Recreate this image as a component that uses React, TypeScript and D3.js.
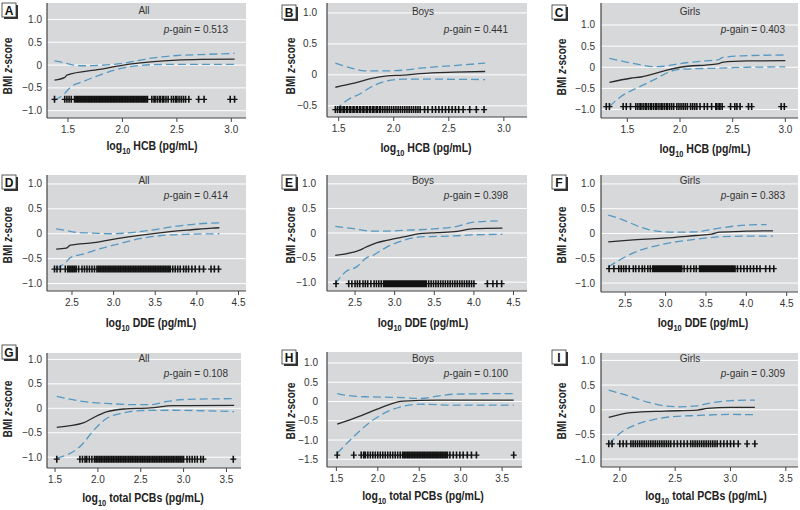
import React from "react";
import * as d3 from "d3";

type Pt = [number, number];

// ---------- data ----------
const PANEL_LETTERS = ["A", "B", "C", "D", "E", "F", "G", "H", "I"];
const GROUPS = ["All", "Boys", "Girls", "All", "Boys", "Girls", "All", "Boys", "Girls"];
const EXPOSURES = ["HCB", "HCB", "HCB", "DDE", "DDE", "DDE", "total PCBs", "total PCBs", "total PCBs"];
const P_GAINS = ["0.513", "0.441", "0.403", "0.414", "0.398", "0.383", "0.108", "0.100", "0.309"];

const X_TICKS_HCB = [1.5, 2.0, 2.5, 3.0];
const X_TICKS_DDE = [2.5, 3.0, 3.5, 4.0, 4.5];
const X_TICKS_PCB = [1.5, 2.0, 2.5, 3.0, 3.5];
const X_TICKS_PCB_GIRLS = [2.0, 2.5, 3.0, 3.5];
const Y_TICKS_STD = [-1.0, -0.5, 0, 0.5, 1.0];
const Y_TICKS_B = [-0.5, 0, 0.5, 1.0];
const Y_TICKS_H = [-1.5, -1.0, -0.5, 0, 0.5, 1.0];

const RUG_Y = [-0.75, -0.56, -0.93, -0.71, -1.03, -0.71, -1.04, -1.39, -0.69];

// Panel A
const A_fit: Pt[] = [[1.376, -0.33], [1.47, -0.27], [1.49, -0.22], [1.79, -0.095], [2.01, 0], [2.26, 0.07], [2.5, 0.11], [2.72, 0.124], [3.03, 0.13]];
const A_hi: Pt[] = [[1.376, 0.09], [1.47, 0.05], [1.55, 0], [1.64, -0.015], [1.79, -0.007], [2.01, 0.04], [2.26, 0.15], [2.5, 0.21], [2.72, 0.23], [3.03, 0.255]];
const A_lo: Pt[] = [[1.376, -0.77], [1.47, -0.62], [1.52, -0.49], [1.64, -0.36], [1.79, -0.22], [2.01, -0.06], [2.17, -0.007], [2.26, 0.007], [2.5, 0.015], [3.03, 0.015]];
const A_rug = [1.376, 1.47, 1.49, 1.51, 1.53, 1.56, 1.575, 1.59, 1.6, 1.615, 1.63, 1.645, 1.66, 1.675, 1.69, 1.7, 1.715, 1.73, 1.745, 1.76, 1.775, 1.79, 1.8, 1.815, 1.83, 1.845, 1.86, 1.875, 1.89, 1.9, 1.915, 1.93, 1.945, 1.96, 1.975, 1.99, 2.0, 2.015, 2.03, 2.045, 2.06, 2.075, 2.09, 2.1, 2.115, 2.13, 2.145, 2.16, 2.175, 2.19, 2.2, 2.215, 2.23, 2.27, 2.29, 2.3, 2.32, 2.34, 2.35, 2.37, 2.38, 2.4, 2.42, 2.45, 2.47, 2.49, 2.5, 2.52, 2.54, 2.56, 2.58, 2.61, 2.7, 2.75, 2.99, 3.03];

// Panel B
const B_fit: Pt[] = [[1.47, -0.2], [1.64, -0.135], [1.79, -0.06], [1.94, -0.016], [2.09, -0.005], [2.24, 0.02], [2.55, 0.043], [2.83, 0.054]];
const B_hi: Pt[] = [[1.47, 0.19], [1.64, 0.097], [1.73, 0.065], [1.94, 0.065], [2.09, 0.076], [2.24, 0.108], [2.55, 0.15], [2.83, 0.19]];
const B_lo: Pt[] = [[1.47, -0.57], [1.58, -0.405], [1.7, -0.3], [1.79, -0.2], [1.94, -0.097], [2.09, -0.07], [2.39, -0.07], [2.83, -0.076]];
const B_rug = [1.47, 1.49, 1.51, 1.52, 1.54, 1.55, 1.57, 1.58, 1.6, 1.61, 1.63, 1.64, 1.66, 1.67, 1.69, 1.7, 1.72, 1.73, 1.75, 1.76, 1.78, 1.79, 1.81, 1.82, 1.84, 1.85, 1.87, 1.88, 1.9, 1.92, 1.94, 1.96, 1.98, 2.0, 2.02, 2.04, 2.06, 2.08, 2.1, 2.12, 2.14, 2.16, 2.18, 2.2, 2.22, 2.24, 2.28, 2.31, 2.35, 2.38, 2.41, 2.44, 2.47, 2.5, 2.53, 2.56, 2.59, 2.63, 2.69, 2.75, 2.82];

// Panel C
const C_fit: Pt[] = [[1.33, -0.36], [1.53, -0.26], [1.63, -0.23], [1.85, -0.087], [2.0, 0], [2.32, 0.07], [2.37, 0.087], [2.4, 0.118], [2.64, 0.15], [3.0, 0.157]];
const C_hi: Pt[] = [[1.33, 0.21], [1.47, 0.134], [1.63, 0.055], [1.75, 0.016], [1.85, 0.024], [2.0, 0.087], [2.23, 0.15], [2.37, 0.18], [2.4, 0.23], [2.64, 0.276], [3.0, 0.29]];
const C_lo: Pt[] = [[1.33, -0.93], [1.44, -0.69], [1.6, -0.48], [1.75, -0.3], [1.91, -0.1], [2.0, -0.047], [2.32, -0.024], [2.64, 0], [3.0, 0.008]];
const C_rug = [1.3, 1.33, 1.46, 1.49, 1.53, 1.58, 1.6, 1.62, 1.63, 1.65, 1.67, 1.68, 1.7, 1.72, 1.73, 1.75, 1.77, 1.78, 1.8, 1.82, 1.83, 1.85, 1.87, 1.88, 1.9, 1.92, 1.94, 1.97, 1.99, 2.01, 2.03, 2.05, 2.07, 2.1, 2.12, 2.14, 2.16, 2.19, 2.23, 2.26, 2.3, 2.34, 2.35, 2.37, 2.38, 2.4, 2.48, 2.52, 2.54, 2.57, 2.65, 2.68, 2.96, 2.99];

// Panel D
const D_fit: Pt[] = [[2.31, -0.31], [2.43, -0.29], [2.48, -0.23], [2.76, -0.18], [3.04, -0.1], [3.31, -0.033], [3.63, 0.033], [3.94, 0.08], [4.18, 0.113], [4.27, 0.12]];
const D_hi: Pt[] = [[2.31, 0.1], [2.43, 0.067], [2.53, 0.033], [2.76, 0.013], [2.96, 0], [3.15, 0.013], [3.43, 0.067], [3.74, 0.147], [4.02, 0.2], [4.27, 0.22]];
const D_lo: Pt[] = [[2.31, -0.69], [2.43, -0.57], [2.48, -0.48], [2.65, -0.4], [2.84, -0.3], [3.04, -0.213], [3.31, -0.1], [3.55, -0.04], [3.86, -0.013], [4.27, 0]];
const D_rug = [2.29, 2.32, 2.36, 2.42, 2.45, 2.47, 2.49, 2.51, 2.53, 2.55, 2.58, 2.62, 2.65, 2.68, 2.71, 2.74, 2.77, 2.8, 2.82, 2.84, 2.86, 2.88, 2.9, 2.92, 2.94, 2.96, 2.98, 3.0, 3.02, 3.04, 3.06, 3.08, 3.1, 3.12, 3.14, 3.16, 3.18, 3.2, 3.22, 3.24, 3.26, 3.28, 3.3, 3.32, 3.34, 3.36, 3.38, 3.4, 3.42, 3.44, 3.46, 3.48, 3.5, 3.52, 3.54, 3.56, 3.58, 3.6, 3.62, 3.64, 3.66, 3.68, 3.71, 3.74, 3.77, 3.8, 3.84, 3.87, 3.9, 3.94, 3.98, 4.03, 4.08, 4.17, 4.21, 4.26];

// Panel E
const E_fit: Pt[] = [[2.25, -0.456], [2.48, -0.39], [2.56, -0.35], [2.62, -0.3], [2.69, -0.25], [2.77, -0.2], [2.9, -0.15], [3.11, -0.08], [3.32, -0.014], [3.53, 0.007], [3.79, 0.034], [4.0, 0.088], [4.36, 0.1]];
const E_hi: Pt[] = [[2.25, 0.136], [2.48, 0.088], [2.69, 0.04], [2.9, 0.04], [3.11, 0.054], [3.53, 0.088], [3.79, 0.136], [4.0, 0.22], [4.3, 0.245]];
const E_lo: Pt[] = [[2.25, -1.03], [2.39, -0.78], [2.52, -0.69], [2.65, -0.5], [2.69, -0.48], [2.9, -0.286], [3.11, -0.15], [3.32, -0.08], [3.74, -0.06], [3.96, -0.04], [4.36, -0.027]];
const E_rug = [2.26, 2.42, 2.46, 2.5, 2.53, 2.56, 2.6, 2.63, 2.66, 2.7, 2.74, 2.77, 2.8, 2.83, 2.86, 2.88, 2.9, 2.92, 2.94, 2.96, 2.98, 3.0, 3.02, 3.04, 3.06, 3.08, 3.1, 3.12, 3.14, 3.16, 3.18, 3.2, 3.22, 3.24, 3.26, 3.28, 3.3, 3.32, 3.34, 3.36, 3.38, 3.4, 3.43, 3.46, 3.49, 3.52, 3.55, 3.58, 3.61, 3.64, 3.67, 3.7, 3.73, 3.76, 3.79, 3.82, 3.85, 3.88, 3.91, 3.94, 3.97, 4.0, 4.17, 4.24, 4.29, 4.35];

// Panel F
const F_fit: Pt[] = [[2.29, -0.17], [2.56, -0.135], [2.97, -0.095], [3.38, -0.04], [3.57, -0.014], [3.67, 0.027], [4.0, 0.047], [4.33, 0.054]];
const F_hi: Pt[] = [[2.29, 0.37], [2.48, 0.27], [2.68, 0.135], [2.89, 0.047], [3.1, 0.027], [3.38, 0.034], [3.63, 0.1], [4.0, 0.17], [4.25, 0.18]];
const F_lo: Pt[] = [[2.29, -0.675], [2.48, -0.49], [2.68, -0.34], [2.97, -0.216], [3.38, -0.115], [3.67, -0.068], [4.0, -0.054], [4.33, -0.054]];
const F_rug = [2.3, 2.36, 2.42, 2.45, 2.48, 2.51, 2.55, 2.6, 2.63, 2.67, 2.71, 2.74, 2.78, 2.81, 2.84, 2.86, 2.88, 2.9, 2.92, 2.94, 2.96, 2.98, 3.0, 3.02, 3.04, 3.06, 3.08, 3.1, 3.12, 3.14, 3.16, 3.18, 3.2, 3.23, 3.27, 3.31, 3.35, 3.38, 3.42, 3.44, 3.46, 3.48, 3.5, 3.52, 3.54, 3.56, 3.58, 3.6, 3.62, 3.64, 3.66, 3.68, 3.7, 3.72, 3.74, 3.76, 3.78, 3.8, 3.82, 3.84, 3.86, 3.89, 3.93, 3.97, 4.01, 4.05, 4.09, 4.13, 4.17, 4.24, 4.29, 4.34];

// Panel G
const G_fit: Pt[] = [[1.52, -0.39], [1.83, -0.3], [1.95, -0.19], [2.1, -0.075], [2.3, -0.014], [2.61, 0.007], [2.88, 0.054], [3.59, 0.06]];
const G_hi: Pt[] = [[1.52, 0.244], [1.75, 0.16], [1.95, 0.115], [2.14, 0.095], [2.42, 0.075], [2.61, 0.075], [2.81, 0.14], [3.0, 0.18], [3.59, 0.197]];
const G_lo: Pt[] = [[1.52, -1.02], [1.81, -0.75], [1.95, -0.45], [2.1, -0.21], [2.3, -0.095], [2.49, -0.047], [2.81, -0.04], [3.59, -0.068]];
const G_rug = [1.52, 1.79, 1.82, 1.85, 1.87, 1.9, 1.93, 1.96, 1.98, 2.0, 2.02, 2.04, 2.06, 2.08, 2.1, 2.12, 2.14, 2.16, 2.18, 2.2, 2.22, 2.24, 2.26, 2.28, 2.3, 2.32, 2.34, 2.36, 2.38, 2.4, 2.42, 2.44, 2.46, 2.48, 2.5, 2.52, 2.54, 2.56, 2.58, 2.6, 2.62, 2.64, 2.66, 2.68, 2.7, 2.72, 2.74, 2.76, 2.78, 2.8, 2.82, 2.84, 2.86, 2.88, 2.9, 2.92, 2.94, 2.96, 2.98, 3.0, 3.04, 3.07, 3.1, 3.13, 3.16, 3.2, 3.23, 3.58];

// Panel H
const H_fit: Pt[] = [[1.51, -0.59], [1.71, -0.44], [1.91, -0.27], [2.11, -0.1], [2.23, -0.017], [2.31, 0.009], [2.72, 0.034], [3.64, 0.034]];
const H_hi: Pt[] = [[1.51, 0.207], [1.71, 0.138], [1.91, 0.12], [2.31, 0.1], [2.51, 0.078], [2.72, 0.138], [2.92, 0.19], [3.64, 0.207]];
const H_lo: Pt[] = [[1.51, -1.345], [1.71, -0.91], [1.91, -0.53], [2.11, -0.27], [2.31, -0.12], [2.51, -0.07], [2.92, -0.095], [3.64, -0.095]];
const H_rug = [1.51, 1.71, 1.8, 1.83, 1.85, 1.88, 1.91, 1.94, 1.97, 2.0, 2.03, 2.06, 2.09, 2.12, 2.15, 2.18, 2.21, 2.24, 2.27, 2.3, 2.32, 2.34, 2.36, 2.38, 2.4, 2.42, 2.44, 2.46, 2.48, 2.5, 2.52, 2.54, 2.56, 2.58, 2.6, 2.62, 2.64, 2.66, 2.68, 2.7, 2.72, 2.74, 2.76, 2.78, 2.8, 2.82, 2.84, 2.87, 2.91, 2.95, 2.99, 3.03, 3.08, 3.13, 3.19, 3.64];

// Panel I
const I_fit: Pt[] = [[1.9, -0.156], [2.1, -0.06], [2.4, -0.027], [2.7, -0.007], [2.79, 0.027], [3.0, 0.048], [3.22, 0.048]];
const I_hi: Pt[] = [[1.9, 0.4], [2.1, 0.265], [2.25, 0.156], [2.4, 0.08], [2.55, 0.06], [2.7, 0.08], [2.85, 0.15], [3.0, 0.184], [3.22, 0.197]];
const I_lo: Pt[] = [[1.9, -0.7], [2.0, -0.48], [2.16, -0.29], [2.31, -0.197], [2.46, -0.143], [2.7, -0.116], [3.0, -0.095], [3.22, -0.1]];
const I_rug = [1.9, 1.93, 2.0, 2.03, 2.06, 2.1, 2.12, 2.14, 2.16, 2.18, 2.2, 2.22, 2.24, 2.26, 2.28, 2.3, 2.32, 2.34, 2.36, 2.38, 2.4, 2.42, 2.44, 2.46, 2.49, 2.52, 2.55, 2.58, 2.61, 2.64, 2.66, 2.68, 2.7, 2.72, 2.74, 2.76, 2.78, 2.8, 2.82, 2.84, 2.86, 2.88, 2.91, 2.94, 2.97, 3.0, 3.03, 3.07, 3.15, 3.22];

const FITS = [A_fit, B_fit, C_fit, D_fit, E_fit, F_fit, G_fit, H_fit, I_fit];
const HIS = [A_hi, B_hi, C_hi, D_hi, E_hi, F_hi, G_hi, H_hi, I_hi];
const LOS = [A_lo, B_lo, C_lo, D_lo, E_lo, F_lo, G_lo, H_lo, I_lo];
const RUGS = [A_rug, B_rug, C_rug, D_rug, E_rug, F_rug, G_rug, H_rug, I_rug];
const X_TICKS = [X_TICKS_HCB, X_TICKS_HCB, X_TICKS_HCB, X_TICKS_DDE, X_TICKS_DDE, X_TICKS_DDE, X_TICKS_PCB, X_TICKS_PCB, X_TICKS_PCB_GIRLS];
const Y_TICKS = [Y_TICKS_STD, Y_TICKS_B, Y_TICKS_STD, Y_TICKS_STD, Y_TICKS_STD, Y_TICKS_STD, Y_TICKS_STD, Y_TICKS_H, Y_TICKS_STD];

// ---------- layout ----------
interface Lay {
  l: number; r: number; t: number; b: number;
  xd: [number, number]; yd: [number, number];
  box: [number, number]; yLabX: number; yLabY: number; tickR: number;
  xLabX: number; xLabY: number; titleX: number; titleY: number; pX: number; pY: number;
}
const LAYOUT: Lay[] = [
  { l: 47, r: 246, t: 3, b: 118, xd: [1.307, 3.135], yd: [-1.16, 1.36], box: [2, 3], yLabX: 7, yLabY: 66, tickR: 42, xLabX: 152, xLabY: 150, titleX: 144, titleY: 14, pX: 228, pY: 33 },
  { l: 327, r: 527, t: 3, b: 117, xd: [1.394, 3.21], yd: [-0.68, 1.16], box: [282, 5], yLabX: 290, yLabY: 66, tickR: 317, xLabX: 426, xLabY: 152, titleX: 423, titleY: 15, pX: 508, pY: 33 },
  { l: 601, r: 798, t: 3, b: 118, xd: [1.25, 3.12], yd: [-1.2, 1.52], box: [552, 5], yLabX: 561, yLabY: 67, tickR: 595, xLabX: 705, xLabY: 153, titleX: 690, titleY: 15, pX: 785, pY: 33 },
  { l: 47, r: 246, t: 175, b: 291, xd: [2.2, 4.59], yd: [-1.15, 1.18], box: [2, 175], yLabX: 7, yLabY: 235, tickR: 42, xLabX: 151, xLabY: 327, titleX: 144, titleY: 184, pX: 228, pY: 199 },
  { l: 327, r: 527, t: 175, b: 291, xd: [2.146, 4.67], yd: [-1.18, 1.18], box: [282, 175], yLabX: 290, yLabY: 235, tickR: 316, xLabX: 423, xLabY: 327, titleX: 423, titleY: 184, pX: 508, pY: 199 },
  { l: 601, r: 798, t: 175, b: 292, xd: [2.2, 4.64], yd: [-1.18, 1.18], box: [552, 175], yLabX: 561, yLabY: 235, tickR: 595, xLabX: 703, xLabY: 327, titleX: 690, titleY: 184, pX: 785, pY: 199 },
  { l: 47, r: 241, t: 353, b: 468, xd: [1.406, 3.67], yd: [-1.22, 1.13], box: [2, 345], yLabX: 7, yLabY: 409, tickR: 42, xLabX: 143, xLabY: 502, titleX: 144, titleY: 362, pX: 228, pY: 377 },
  { l: 327, r: 522, t: 352, b: 467, xd: [1.387, 3.74], yd: [-1.7, 1.285], box: [282, 350], yLabX: 290, yLabY: 411, tickR: 318, xLabX: 423, xLabY: 500, titleX: 423, titleY: 362, pX: 508, pY: 377 },
  { l: 601, r: 798, t: 353, b: 467, xd: [1.83, 3.61], yd: [-1.16, 1.15], box: [552, 350], yLabX: 561, yLabY: 411, tickR: 595, xLabX: 706, xLabY: 500, titleX: 690, titleY: 362, pX: 785, pY: 377 },
];

const FONT = "'Liberation Sans', Arial, sans-serif";
const NARROW = 0.78;
const BG = "#d7d8da";
const BLUE = "#5598c2";
const DARK = "#2a2a2a";

function Panel({ i }: { i: number }) {
  const L = LAYOUT[i];
  const x = d3.scaleLinear().domain(L.xd).range([L.l, L.r]);
  const y = d3.scaleLinear().domain(L.yd).range([L.b, L.t]);
  const line = d3.line<Pt>().x((d) => x(d[0])).y((d) => y(d[1])).curve(d3.curveMonotoneX);
  const ry = y(RUG_Y[i]);
  const hPath = RUGS[i].map((v) => `M${x(v) - 3},${ry}h6`).join("");
  const vPath = RUGS[i].map((v) => `M${x(v)},${ry - 3.5}v7`).join("");
  const [bx, by] = L.box;
  return (
    <g>
      <rect x={L.l} y={L.t} width={L.r - L.l} height={L.b - L.t} fill={BG} />
      {Y_TICKS[i].map((t) => (
        <line key={"g" + t} x1={L.l} x2={L.r} y1={y(t)} y2={y(t)} stroke="#fff" strokeWidth={1} />
      ))}
      <line x1={L.l} x2={L.l} y1={L.t} y2={L.b} stroke="#444" strokeWidth={1.2} />
      <line x1={L.l} x2={L.r} y1={L.b} y2={L.b} stroke="#444" strokeWidth={1.2} />
      {X_TICKS[i].map((t) => (
        <g key={"x" + t}>
          <line x1={x(t)} x2={x(t)} y1={L.b} y2={L.b + 4} stroke="#444" />
          <text x={x(t)} y={L.b + 15} textAnchor="middle" fontSize={10} fill="#333" fontFamily={FONT}>
            {t.toFixed(1)}
          </text>
        </g>
      ))}
      {Y_TICKS[i].map((t) => (
        <text key={"y" + t} x={L.tickR} y={y(t) + 3.5} textAnchor="end" fontSize={10} fill="#333" fontFamily={FONT}>
          {t === 0 ? "0" : t < 0 ? "\u2212" + Math.abs(t).toFixed(1) : t.toFixed(1)}
        </text>
      ))}
      <path d={line(HIS[i]) || ""} fill="none" stroke={BLUE} strokeWidth={1.3} strokeDasharray="8,4" />
      <path d={line(LOS[i]) || ""} fill="none" stroke={BLUE} strokeWidth={1.3} strokeDasharray="8,4" />
      <path d={line(FITS[i]) || ""} fill="none" stroke={DARK} strokeWidth={1.3} />
      <path d={hPath} stroke="#111" strokeWidth={1.2} fill="none" />
      <path d={vPath} stroke="#111" strokeWidth={1.6} fill="none" />
      <text x={L.titleX} y={L.titleY} textAnchor="middle" fontSize={10} fill="#333" fontFamily={FONT}>
        {GROUPS[i]}
      </text>
      <text x={L.pX} y={L.pY} textAnchor="end" fontSize={10} fill="#333" fontFamily={FONT}>
        <tspan fontStyle="italic">p</tspan>-gain = {P_GAINS[i]}
      </text>
      <text
        transform={`translate(${L.xLabX},${L.xLabY}) scale(${NARROW},1)`}
        textAnchor="middle"
        fontSize={13.5}
        fontWeight="bold"
        fill="#222"
        fontFamily={FONT}
      >
        log<tspan fontSize={9.5} dy={4}>10</tspan>
        <tspan dy={-4}> {EXPOSURES[i]} (pg/mL)</tspan>
      </text>
      <text
        transform={`translate(${L.yLabX},${L.yLabY}) rotate(-90) scale(${NARROW},1)`}
        textAnchor="middle"
        dy={4.5}
        fontSize={13}
        fontWeight="bold"
        fill="#222"
        fontFamily={FONT}
      >
        BMI <tspan fontStyle="italic">z</tspan>-score
      </text>
      <rect x={bx + 2} y={by + 2} width={14} height={14} fill="#333" />
      <rect x={bx} y={by} width={14} height={14} fill="#fff" stroke="#333" strokeWidth={0.8} />
      <text x={bx + 7} y={by + 11.5} textAnchor="middle" fontSize={12} fontWeight="bold" fill="#111" fontFamily={FONT}>
        {PANEL_LETTERS[i]}
      </text>
    </g>
  );
}

export default function App() {
  return (
    <svg width={800} height={510} style={{ position: "absolute", left: 0, top: 0, background: "#fff" }}>
      {LAYOUT.map((_, i) => (
        <Panel key={i} i={i} />
      ))}
    </svg>
  );
}
